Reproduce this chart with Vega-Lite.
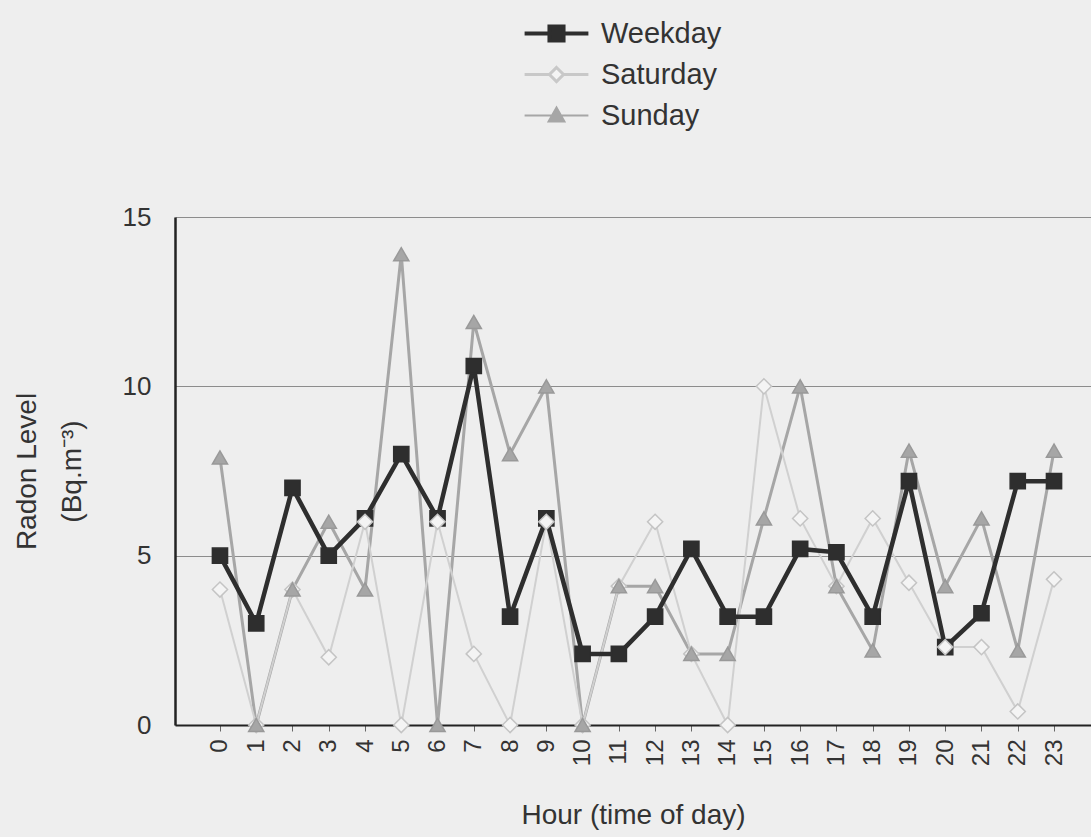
{
  "$schema": "https://vega.github.io/schema/vega-lite/v6.json",
  "width": 916,
  "height": 508,
  "autosize": {"type": "none"},
  "padding": {"left": 175, "top": 217, "right": 0, "bottom": 112},
  "background": "#eeeeee",
  "config": {"font": "Liberation Sans", "view": {"stroke": null}},
  "data": {"values": [
    {"hour":0,"series":"Weekday","value":5.0},{"hour":1,"series":"Weekday","value":3.0},{"hour":2,"series":"Weekday","value":7.0},{"hour":3,"series":"Weekday","value":5.0},
    {"hour":4,"series":"Weekday","value":6.1},{"hour":5,"series":"Weekday","value":8.0},{"hour":6,"series":"Weekday","value":6.1},{"hour":7,"series":"Weekday","value":10.6},
    {"hour":8,"series":"Weekday","value":3.2},{"hour":9,"series":"Weekday","value":6.1},{"hour":10,"series":"Weekday","value":2.1},{"hour":11,"series":"Weekday","value":2.1},
    {"hour":12,"series":"Weekday","value":3.2},{"hour":13,"series":"Weekday","value":5.2},{"hour":14,"series":"Weekday","value":3.2},{"hour":15,"series":"Weekday","value":3.2},
    {"hour":16,"series":"Weekday","value":5.2},{"hour":17,"series":"Weekday","value":5.1},{"hour":18,"series":"Weekday","value":3.2},{"hour":19,"series":"Weekday","value":7.2},
    {"hour":20,"series":"Weekday","value":2.3},{"hour":21,"series":"Weekday","value":3.3},{"hour":22,"series":"Weekday","value":7.2},{"hour":23,"series":"Weekday","value":7.2},
    {"hour":0,"series":"Saturday","value":4.0},{"hour":1,"series":"Saturday","value":0},{"hour":2,"series":"Saturday","value":4.0},{"hour":3,"series":"Saturday","value":2.0},
    {"hour":4,"series":"Saturday","value":6.0},{"hour":5,"series":"Saturday","value":0},{"hour":6,"series":"Saturday","value":6.0},{"hour":7,"series":"Saturday","value":2.1},
    {"hour":8,"series":"Saturday","value":0},{"hour":9,"series":"Saturday","value":6.0},{"hour":10,"series":"Saturday","value":0},{"hour":11,"series":"Saturday","value":4.1},
    {"hour":12,"series":"Saturday","value":6.0},{"hour":13,"series":"Saturday","value":2.1},{"hour":14,"series":"Saturday","value":0},{"hour":15,"series":"Saturday","value":10.0},
    {"hour":16,"series":"Saturday","value":6.1},{"hour":17,"series":"Saturday","value":4.1},{"hour":18,"series":"Saturday","value":6.1},{"hour":19,"series":"Saturday","value":4.2},
    {"hour":20,"series":"Saturday","value":2.3},{"hour":21,"series":"Saturday","value":2.3},{"hour":22,"series":"Saturday","value":0.4},{"hour":23,"series":"Saturday","value":4.3},
    {"hour":0,"series":"Sunday","value":7.9},{"hour":1,"series":"Sunday","value":0},{"hour":2,"series":"Sunday","value":4.0},{"hour":3,"series":"Sunday","value":6.0},
    {"hour":4,"series":"Sunday","value":4.0},{"hour":5,"series":"Sunday","value":13.9},{"hour":6,"series":"Sunday","value":0},{"hour":7,"series":"Sunday","value":11.9},
    {"hour":8,"series":"Sunday","value":8.0},{"hour":9,"series":"Sunday","value":10.0},{"hour":10,"series":"Sunday","value":0},{"hour":11,"series":"Sunday","value":4.1},
    {"hour":12,"series":"Sunday","value":4.1},{"hour":13,"series":"Sunday","value":2.1},{"hour":14,"series":"Sunday","value":2.1},{"hour":15,"series":"Sunday","value":6.1},
    {"hour":16,"series":"Sunday","value":10.0},{"hour":17,"series":"Sunday","value":4.1},{"hour":18,"series":"Sunday","value":2.2},{"hour":19,"series":"Sunday","value":8.1},
    {"hour":20,"series":"Sunday","value":4.1},{"hour":21,"series":"Sunday","value":6.1},{"hour":22,"series":"Sunday","value":2.2},{"hour":23,"series":"Sunday","value":8.1}
  ]},
  "encoding": {
    "x": {"field": "hour", "type": "quantitative",
      "scale": {"domain": [-1.24, 24.02], "nice": false, "zero": false},
      "axis": {"values": [0,1,2,3,4,5,6,7,8,9,10,11,12,13,14,15,16,17,18,19,20,21,22,23],
        "title": "Hour (time of day)", "labelAngle": 270, "labelFontSize": 24, "labelColor": "#333333",
        "labelPadding": 8, "labelFlush": false, "labelOverlap": false, "tickSize": 6, "tickColor": "#666666",
        "domainColor": "#222222", "domainWidth": 2, "grid": false,
        "titleFontSize": 28, "titleFontWeight": "normal", "titleColor": "#333333", "titlePadding": 36}},
    "y": {"field": "value", "type": "quantitative",
      "scale": {"domain": [0, 15], "nice": false},
      "axis": {"values": [0, 5, 10, 15], "title": ["Radon Level", "(Bq.m⁻³)"],
        "labelFontSize": 26, "labelColor": "#333333", "labelPadding": 24, "labelFlush": false, "ticks": false,
        "domainColor": "#222222", "domainWidth": 2.5, "gridColor": "#8c8c8c", "gridWidth": 1.2,
        "titleFontSize": 28, "titleFontWeight": "normal", "titleColor": "#333333", "titlePadding": 36, "titleLineHeight": 45}}
  },
  "resolve": {"scale": {"shape": "independent", "fill": "independent", "stroke": "independent", "strokeWidth": "independent"}},
  "layer": [
    {"transform": [{"filter": "datum.series === 'Sunday'"}],
     "mark": {"type": "line", "color": "#a6a6a6", "strokeWidth": 3},
     "encoding": {}},
    {"transform": [{"filter": "datum.series === 'Saturday'"}],
     "mark": {"type": "line", "color": "#d0d0d0", "strokeWidth": 2},
     "encoding": {}},
    {"transform": [{"filter": "datum.series === 'Weekday'"}],
     "mark": {"type": "line", "color": "#2e2e2e", "strokeWidth": 4.5},
     "encoding": {}},
    {"mark": {"type": "point", "opacity": 1, "strokeWidth": 1.5, "size": 230},
     "encoding": {
       "shape": {"field": "series", "type": "nominal",
         "scale": {"domain": ["Weekday", "Saturday", "Sunday"], "range": ["square", "diamond", "triangle-up"]}, "legend": null},
       "fill": {"field": "series", "type": "nominal", "scale": {"domain": ["Weekday", "Saturday", "Sunday"], "range": ["#2e2e2e", "#f4f4f4", "#a6a6a6"]}, "legend": null},
       "stroke": {"field": "series", "type": "nominal", "scale": {"domain": ["Weekday", "Saturday", "Sunday"], "range": ["#2e2e2e", "#c4c4c4", "#999999"]}, "legend": null}
     }},
    {"transform": [{"filter": "datum.hour < 0"}],
     "mark": {"type": "point", "opacity": 1},
     "encoding": {
       "shape": {"field": "series", "type": "nominal",
         "scale": {"domain": ["Weekday", "Saturday", "Sunday"], "range": ["M-2.9,0H2.9M-0.64,-0.64H0.64V0.64H-0.64Z", "M-2.9,0H-0.64M0.64,0H2.9M0,-0.64L0.64,0L0,0.64L-0.64,0Z", "M-2.9,0H2.9M0,-0.72L0.72,0.55H-0.72Z"]},
         "legend": {"title": null, "orient": "none", "legendX": 367, "legendY": -198, "symbolSize": 484,
           "labelFontSize": 29, "labelColor": "#333333", "labelOffset": 30, "rowPadding": 11}},
       "fill": {"field": "series", "type": "nominal", "scale": {"domain": ["Weekday", "Saturday", "Sunday"], "range": ["#2e2e2e", "#f4f4f4", "#a6a6a6"]},
         "legend": {"title": null, "orient": "none", "legendX": 367, "legendY": -198, "symbolSize": 484,
           "labelFontSize": 29, "labelColor": "#333333", "labelOffset": 30, "rowPadding": 11}},
       "stroke": {"field": "series", "type": "nominal", "scale": {"domain": ["Weekday", "Saturday", "Sunday"], "range": ["#2e2e2e", "#c8c8c8", "#a6a6a6"]},
         "legend": {"title": null, "orient": "none", "legendX": 367, "legendY": -198, "symbolSize": 484,
           "labelFontSize": 29, "labelColor": "#333333", "labelOffset": 30, "rowPadding": 11}},
       "strokeWidth": {"field": "series", "type": "nominal", "scale": {"domain": ["Weekday", "Saturday", "Sunday"], "range": [4, 2, 2.5]},
         "legend": {"title": null, "orient": "none", "legendX": 367, "legendY": -198, "symbolSize": 484,
           "labelFontSize": 29, "labelColor": "#333333", "labelOffset": 30, "rowPadding": 11}}
     }}
  ]
}
